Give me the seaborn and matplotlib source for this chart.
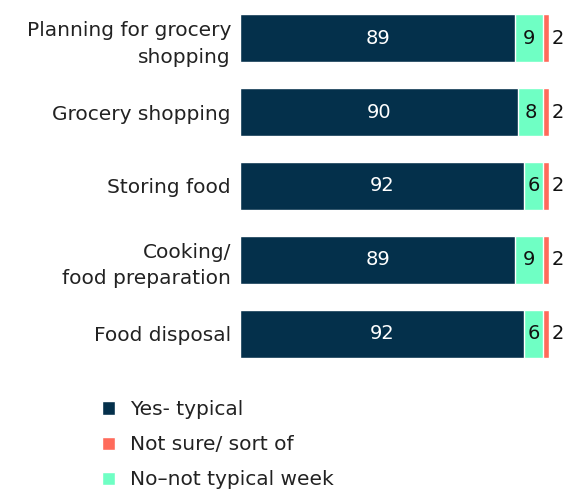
import matplotlib
matplotlib.use("Agg")
import matplotlib.pyplot as plt
import seaborn as sns
import pandas as pd
from matplotlib.patches import Patch

categories = ["Planning for grocery\nshopping", "Grocery shopping", "Storing food",
              "Cooking/\nfood preparation", "Food disposal"]
yes_typical = [89, 90, 92, 89, 92]
no_not_typical = [9, 8, 6, 9, 6]
not_sure = [2, 2, 2, 2, 2]

series_names = ["Yes- typical", "Not sure/ sort of", "No\u2013not typical week"]
c_yes = "#04304B"
c_no = "#6FFFC4"
c_ns = "#FF6B5B"

sns.set_theme(style="white")
plt.rcParams['font.family'] = ['DejaVu Sans']

df = pd.DataFrame({"cat": categories, "yes": yes_typical, "no": no_not_typical, "ns": not_sure})
df["yes_no"] = df["yes"] + df["no"]
df["total"] = df["yes_no"] + df["ns"]

fig = plt.figure(figsize=(5.65, 4.9), dpi=100)
ax = fig.add_axes([240/565, 0.244, 309/565, 0.753])

sns.barplot(data=df, y="cat", x="total", color=c_ns, width=0.65, ax=ax, saturation=1, orient="h")
sns.barplot(data=df, y="cat", x="yes_no", color=c_no, width=0.65, ax=ax, saturation=1, orient="h")
sns.barplot(data=df, y="cat", x="yes", color=c_yes, width=0.65, ax=ax, saturation=1, orient="h")

for i in range(len(categories)):
    ax.text(yes_typical[i] / 2, i, str(yes_typical[i]), ha="center", va="center",
            color="white", fontsize=14)
    ax.text(yes_typical[i] + no_not_typical[i] / 2, i, str(no_not_typical[i]), ha="center",
            va="center", color="#111111", fontsize=14)
    ax.text(df["total"][i] + 0.8, i, str(not_sure[i]), ha="left", va="center",
            color="#111111", fontsize=14)

ax.set_xlim(0, 100)
ax.set_ylim(4.5, -0.5)
ax.set_xlabel("")
ax.set_ylabel("")
ax.set_xticks([])
for s in ax.spines.values():
    s.set_visible(False)
ax.tick_params(axis="y", length=0, pad=6.5, labelsize=14.5, labelcolor="#222222")
for lab in ax.get_yticklabels():
    lab.set_horizontalalignment("right")
    lab.set_multialignment("right")
    lab.set_linespacing(1.5)

handles = [Patch(facecolor=c_yes), Patch(facecolor=c_ns), Patch(facecolor=c_no)]
leg = fig.legend(handles, series_names, loc="upper left", bbox_to_anchor=(92/565, 1 - 390/490),
                 frameon=False, fontsize=14.5, handlelength=0.62, handleheight=0.62,
                 labelspacing=0.8, handletextpad=0.75, borderpad=0)
for t in leg.get_texts():
    t.set_color("#222222")

fig.savefig("out.png", dpi=100)
